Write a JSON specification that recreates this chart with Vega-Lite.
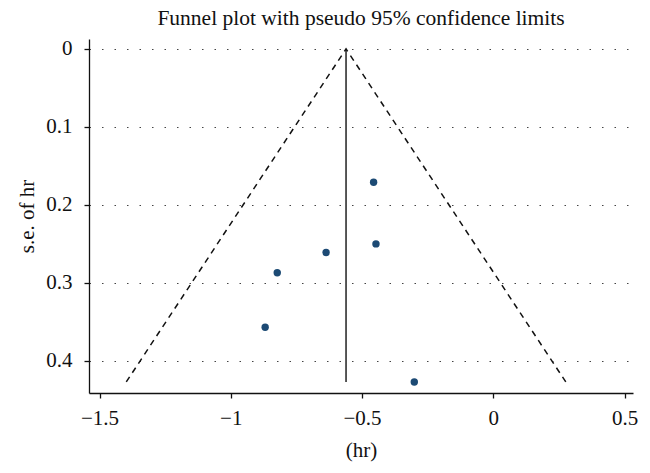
{
  "$schema": "https://vega.github.io/schema/vega-lite/v6.json",
  "autosize": {"type": "none"},
  "padding": {"left": 89, "top": 39, "right": 17, "bottom": 80},
  "width": 544,
  "height": 354,
  "background": "white",
  "title": {
    "text": "Funnel plot with pseudo 95% confidence limits",
    "font": "Liberation Serif",
    "fontSize": 21.5,
    "fontWeight": "normal",
    "color": "#111",
    "anchor": "middle",
    "offset": 8
  },
  "config": {
    "view": {"stroke": null},
    "axis": {
      "labelFont": "Liberation Serif",
      "titleFont": "Liberation Serif",
      "labelFontSize": 21,
      "titleFontSize": 21,
      "titleFontWeight": "normal",
      "labelColor": "#111",
      "titleColor": "#111",
      "domainColor": "#111",
      "tickColor": "#111",
      "domainWidth": 1.3,
      "tickWidth": 1.3,
      "tickSize": 5
    }
  },
  "datasets": {
    "studies": [
      {"hr": -0.456, "se": 0.171},
      {"hr": -0.447, "se": 0.250},
      {"hr": -0.637, "se": 0.261},
      {"hr": -0.823, "se": 0.287},
      {"hr": -0.869, "se": 0.357},
      {"hr": -0.301, "se": 0.427}
    ],
    "funnel": [
      {"hr": -1.398, "se": 0.427, "ord": 1},
      {"hr": -0.561, "se": 0.0, "ord": 2},
      {"hr": 0.276, "se": 0.427, "ord": 3}
    ],
    "pooled": [
      {"hr": -0.561, "se": 0.0, "se2": 0.427}
    ]
  },
  "layer": [
    {
      "data": {"name": "funnel"},
      "mark": {"type": "line", "color": "#111", "strokeWidth": 1.5, "strokeDash": [6, 5]},
      "encoding": {
        "x": {
          "field": "hr", "type": "quantitative",
          "scale": {"domain": [-1.54, 0.532], "nice": false, "zero": false},
          "axis": {
            "title": "(hr)",
            "values": [-1.5, -1, -0.5, 0, 0.5],
            "format": "~g",
            "grid": false,
            "labelPadding": 9,
            "titlePadding": 11,
            "labelFlush": false
          }
        },
        "y": {
          "field": "se", "type": "quantitative",
          "scale": {"domain": [-0.0127, 0.4412], "reverse": true, "nice": false, "zero": false},
          "axis": {
            "title": "s.e. of hr",
            "values": [0, 0.1, 0.2, 0.3, 0.4],
            "format": "~g",
            "grid": true,
            "gridColor": "#444",
            "gridDash": [1.5, 11],
            "gridWidth": 1.2,
            "labelPadding": 12,
            "titlePadding": 8,
            "labelFlush": false
          }
        },
        "order": {"field": "ord", "type": "quantitative"}
      }
    },
    {
      "data": {"name": "pooled"},
      "mark": {"type": "rule", "color": "#111", "strokeWidth": 1.4},
      "encoding": {
        "x": {"field": "hr", "type": "quantitative"},
        "y": {"field": "se", "type": "quantitative"},
        "y2": {"field": "se2"}
      }
    },
    {
      "data": {"name": "studies"},
      "mark": {"type": "circle", "color": "#1c4a74", "opacity": 1, "size": 55},
      "encoding": {
        "x": {"field": "hr", "type": "quantitative"},
        "y": {"field": "se", "type": "quantitative"}
      }
    }
  ]
}
